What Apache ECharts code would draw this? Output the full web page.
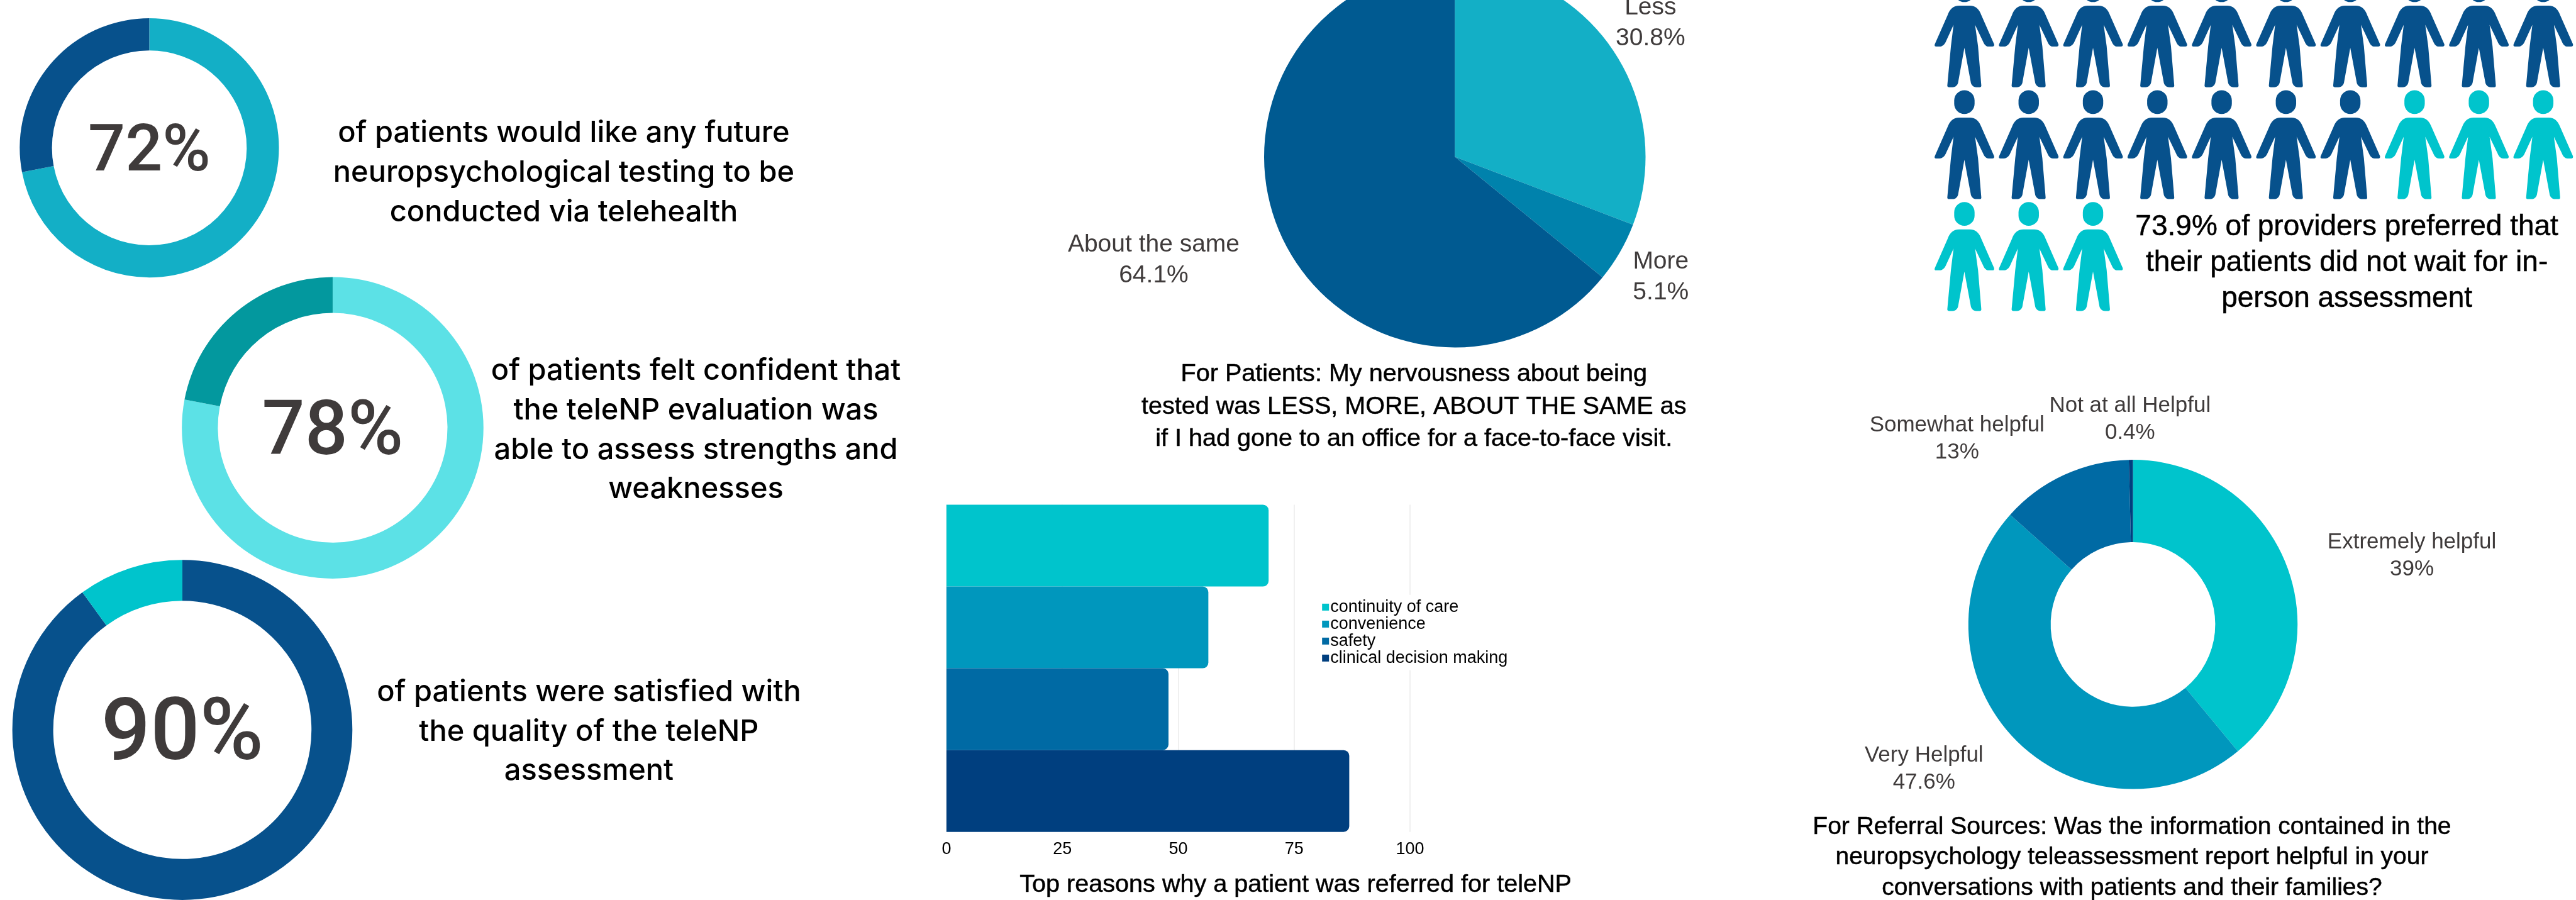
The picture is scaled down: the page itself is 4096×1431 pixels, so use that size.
<!DOCTYPE html>
<html>
<head>
<meta charset="utf-8">
<title>Teleneuropsychology survey results</title>
<style>html,body{margin:0;padding:0;background:#fff}#chart{width:4096px;height:1431px}</style>
<script src="https://cdn.jsdelivr.net/npm/echarts@6/dist/echarts.min.js"></script>
</head>
<body>
<div id="chart"></div>
<script>
// Survey figures
const telehealthPreference = [72, 28];
const confidence = [78, 22];
const satisfaction = [90, 10];

const nervousnessNames = ['Less', 'More', 'About the same'];
const nervousnessValues = [30.8, 5.1, 64.1];

const referralReasons = ['continuity of care', 'convenience', 'safety', 'clinical decision making'];
const referralValues = [69.5, 56.5, 47.9, 86.9];
const referralTicks = [0, 25, 50, 75, 100];

const providersNotWaiting = 17;
const providersWaiting = 6;
const providersPerRow = 10;

const helpfulNames = ['Extremely helpful', 'Very Helpful', 'Somewhat helpful', 'Not at all Helpful'];
const helpfulValues = [39, 47.6, 13, 0.4];

// Layout is worked out in a 5227-wide design space, then scaled to the page
const S = 4096 / 5227;
const px = v => v * S;
const LABEL_FONT = 'Liberation Sans';
const BODY_FONT = 'Inter';
const FIGURE_FONT = 'Roboto';
const NAVY = '#07518c', AQUA = '#00c4cc', SLATE = '#3f3b3b';

const person = 'path://M120 62A62 62 0 0 1 244 62L244 83A62 62 0 0 1 120 83ZM150 167L215 167C250 167 273 190 285 224L363 402Q366 416 352 416L330 416C312 416 301 400 295 384L247 284L265 414L285 654Q285 664 275 664L255 664C235 664 222 650 220 629L182 424L145 629C143 650 130 664 110 664L90 664Q78 664 78 654L100 414L116 284L70 384C64 400 50 416 30 416L10 416Q-3 416 2 402L80 224C92 190 115 167 150 167Z';

// A ring with its headline percentage in the hole
function ring(values, colors, cx, cy, outer, inner, fontSize, nudge) {
  return {
    type: 'pie', silent: true, animation: false, startAngle: 90,
    center: [px(cx), px(cy)], radius: [px(inner), px(outer)],
    label: { show: false }, labelLine: { show: false },
    data: values.map((v, i) => ({
      value: v,
      itemStyle: { color: colors[i] },
      label: i === 0 ? {
        show: true, position: 'center', formatter: '{c}%', offset: [0, nudge],
        fontFamily: FIGURE_FONT, fontWeight: 500, fontSize, color: SLATE
      } : { show: false }
    }))
  };
}

// A pie or donut whose labels sit at chosen spots around it
function labelledPie(names, values, colors, cx, cy, radius, spots, fontSize, lineHeight) {
  return {
    type: 'pie', silent: true, animation: false, startAngle: 90,
    center: [px(cx), px(cy)], radius: radius.map(px),
    avoidLabelOverlap: false, minShowLabelAngle: 0,
    label: {
      show: true, position: 'outside', formatter: '{b}\n{c}%',
      fontFamily: LABEL_FONT, fontSize, lineHeight, color: SLATE, align: 'center'
    },
    labelLine: { show: false },
    labelLayout: p => ({
      x: px(spots[p.dataIndex][0]), y: px(spots[p.dataIndex][1]),
      align: 'center', verticalAlign: 'middle'
    }),
    data: names.map((n, i) => ({ name: n, value: values[i], itemStyle: { color: colors[i] } }))
  };
}

// Centred multi-line caption
function caption(lines, cx, firstY, pitch, fontSize, fontFamily, fontWeight, stroke) {
  return lines.map((t, i) => ({
    type: 'text', silent: true, x: px(cx), y: px(firstY + i * pitch),
    style: {
      text: t, fontFamily, fontSize, fontWeight: fontWeight || 400, fill: '#000',
      stroke: stroke ? '#000' : null, lineWidth: stroke || 0,
      align: 'center', verticalAlign: 'middle'
    }
  }));
}

const reasonColors = ['#00c4cc', '#0097bd', '#006aa4', '#003f7f'];

const barSeries = referralReasons.map((name, i) => ({
  type: 'bar', name, animation: false, silent: true,
  xAxisIndex: 0, yAxisIndex: 0,
  barWidth: '100%', barGap: '-100%',
  itemStyle: { color: reasonColors[i], borderRadius: [0, 9, 9, 0] },
  data: referralReasons.map((_, j) => (j === i ? referralValues[i] : null))
}));

// Icon grid: one figure per provider, filled row by row
const peopleCells = Array.from({ length: providersNotWaiting + providersWaiting }, (_, n) => [
  n % providersPerRow, Math.floor(n / providersPerRow)
]);
const peopleSeries = [
  { color: NAVY, cells: peopleCells.slice(0, providersNotWaiting) },
  { color: AQUA, cells: peopleCells.slice(providersNotWaiting) }
].map(group => ({
  type: 'scatter', animation: false, silent: true, clip: false,
  xAxisIndex: 1, yAxisIndex: 1,
  symbol: person, symbolSize: [px(121), px(221)], symbolKeepAspect: false,
  itemStyle: { color: group.color, opacity: 1 },
  data: group.cells
}));

const option = {
  backgroundColor: '#fff',
  grid: [
    { left: px(1920.5), top: px(1024), width: px(2861 - 1920.5), height: px(664), containLabel: false },
    { left: px(3986), top: px(66.5), width: px(130.5 * 9), height: px(454), containLabel: false }
  ],
  xAxis: [
    {
      type: 'value', gridIndex: 0, min: 0, max: referralTicks[referralTicks.length - 1], interval: 25,
      axisLine: { show: false }, axisTick: { show: false },
      axisLabel: { fontFamily: LABEL_FONT, fontSize: 27, color: '#000', margin: 14 },
      splitLine: { show: true, lineStyle: { color: '#f0f0f0', width: 2 } }
    },
    { type: 'value', gridIndex: 1, min: 0, max: providersPerRow - 1, show: false }
  ],
  yAxis: [
    {
      type: 'category', gridIndex: 0, inverse: true, data: referralReasons,
      axisLine: { show: false }, axisTick: { show: false }, axisLabel: { show: false },
      splitLine: { show: false }
    },
    { type: 'value', gridIndex: 1, min: 0, max: 2, inverse: true, show: false }
  ],
  legend: {
    orient: 'vertical', left: px(2675), top: px(1207),
    data: referralReasons, icon: 'rect', itemWidth: 11, itemHeight: 11, itemGap: 0,
    padding: [6, 8, 6, 6], backgroundColor: '#fff', selectedMode: false,
    textStyle: { fontFamily: LABEL_FONT, fontSize: 27, lineHeight: 26, color: '#000', padding: [0, 0, 0, -3] }
  },
  series: [
    ring(telehealthPreference, ['#13afc6', NAVY], 303, 300, 263, 197.6, 104, 10),
    ring(confidence, ['#5ce1e6', '#03989e'], 675, 868, 306, 233, 120, 12),
    ring(satisfaction, [NAVY, AQUA], 370, 1481, 345, 262, 138, 12),
    labelledPie(nervousnessNames, nervousnessValues, ['#13afc6', '#0082ac', '#005a91'],
      2952, 318, [0, 387],
      [[3349, 47], [3370, 562], [2341, 528]], 39, 49),
    labelledPie(helpfulNames, helpfulValues, [AQUA, '#0097bd', '#006aa4', '#003f7f'],
      4328, 1267, [167, 334],
      [[4894, 1128], [3904, 1561], [3971, 891], [4322, 851]], 35, 43),
    ...barSeries,
    ...peopleSeries
  ],
  graphic: { elements: [
    ...caption(['of patients would like any future', 'neuropsychological testing to be', 'conducted via telehealth'], 1144, 271, 80, 47, BODY_FONT, 500),
    ...caption(['of patients felt confident that', 'the teleNP evaluation was', 'able to assess strengths and', 'weaknesses'], 1412, 753, 80, 47, BODY_FONT, 500),
    ...caption(['of patients were satisfied with', 'the quality of the teleNP', 'assessment'], 1195, 1405, 80, 47, BODY_FONT, 500),
    ...caption(['For Patients: My nervousness about being', 'tested was LESS, MORE, ABOUT THE SAME as', 'if I had gone to an office for a face-to-face visit.'], 2869, 760, 65.5, 39.6, LABEL_FONT, 400, 0.5),
    ...caption(['Top reasons why a patient was referred for teleNP'], 2629, 1796, 0, 39.6, LABEL_FONT, 400, 0.5),
    ...caption(['73.9% of providers preferred that', 'their patients did not wait for in-', 'person assessment'], 4762, 461, 72.6, 46, LABEL_FONT, 400, 0.5),
    ...caption(['For Referral Sources: Was the information contained in the', 'neuropsychology teleassessment report helpful in your', 'conversations with patients and their families?'], 4326, 1678, 62, 39, LABEL_FONT, 400, 0.5)
  ] }
};

const chart = echarts.init(document.getElementById('chart'), null, { renderer: 'canvas' });
chart.setOption(option);
</script>
</body>
</html>
